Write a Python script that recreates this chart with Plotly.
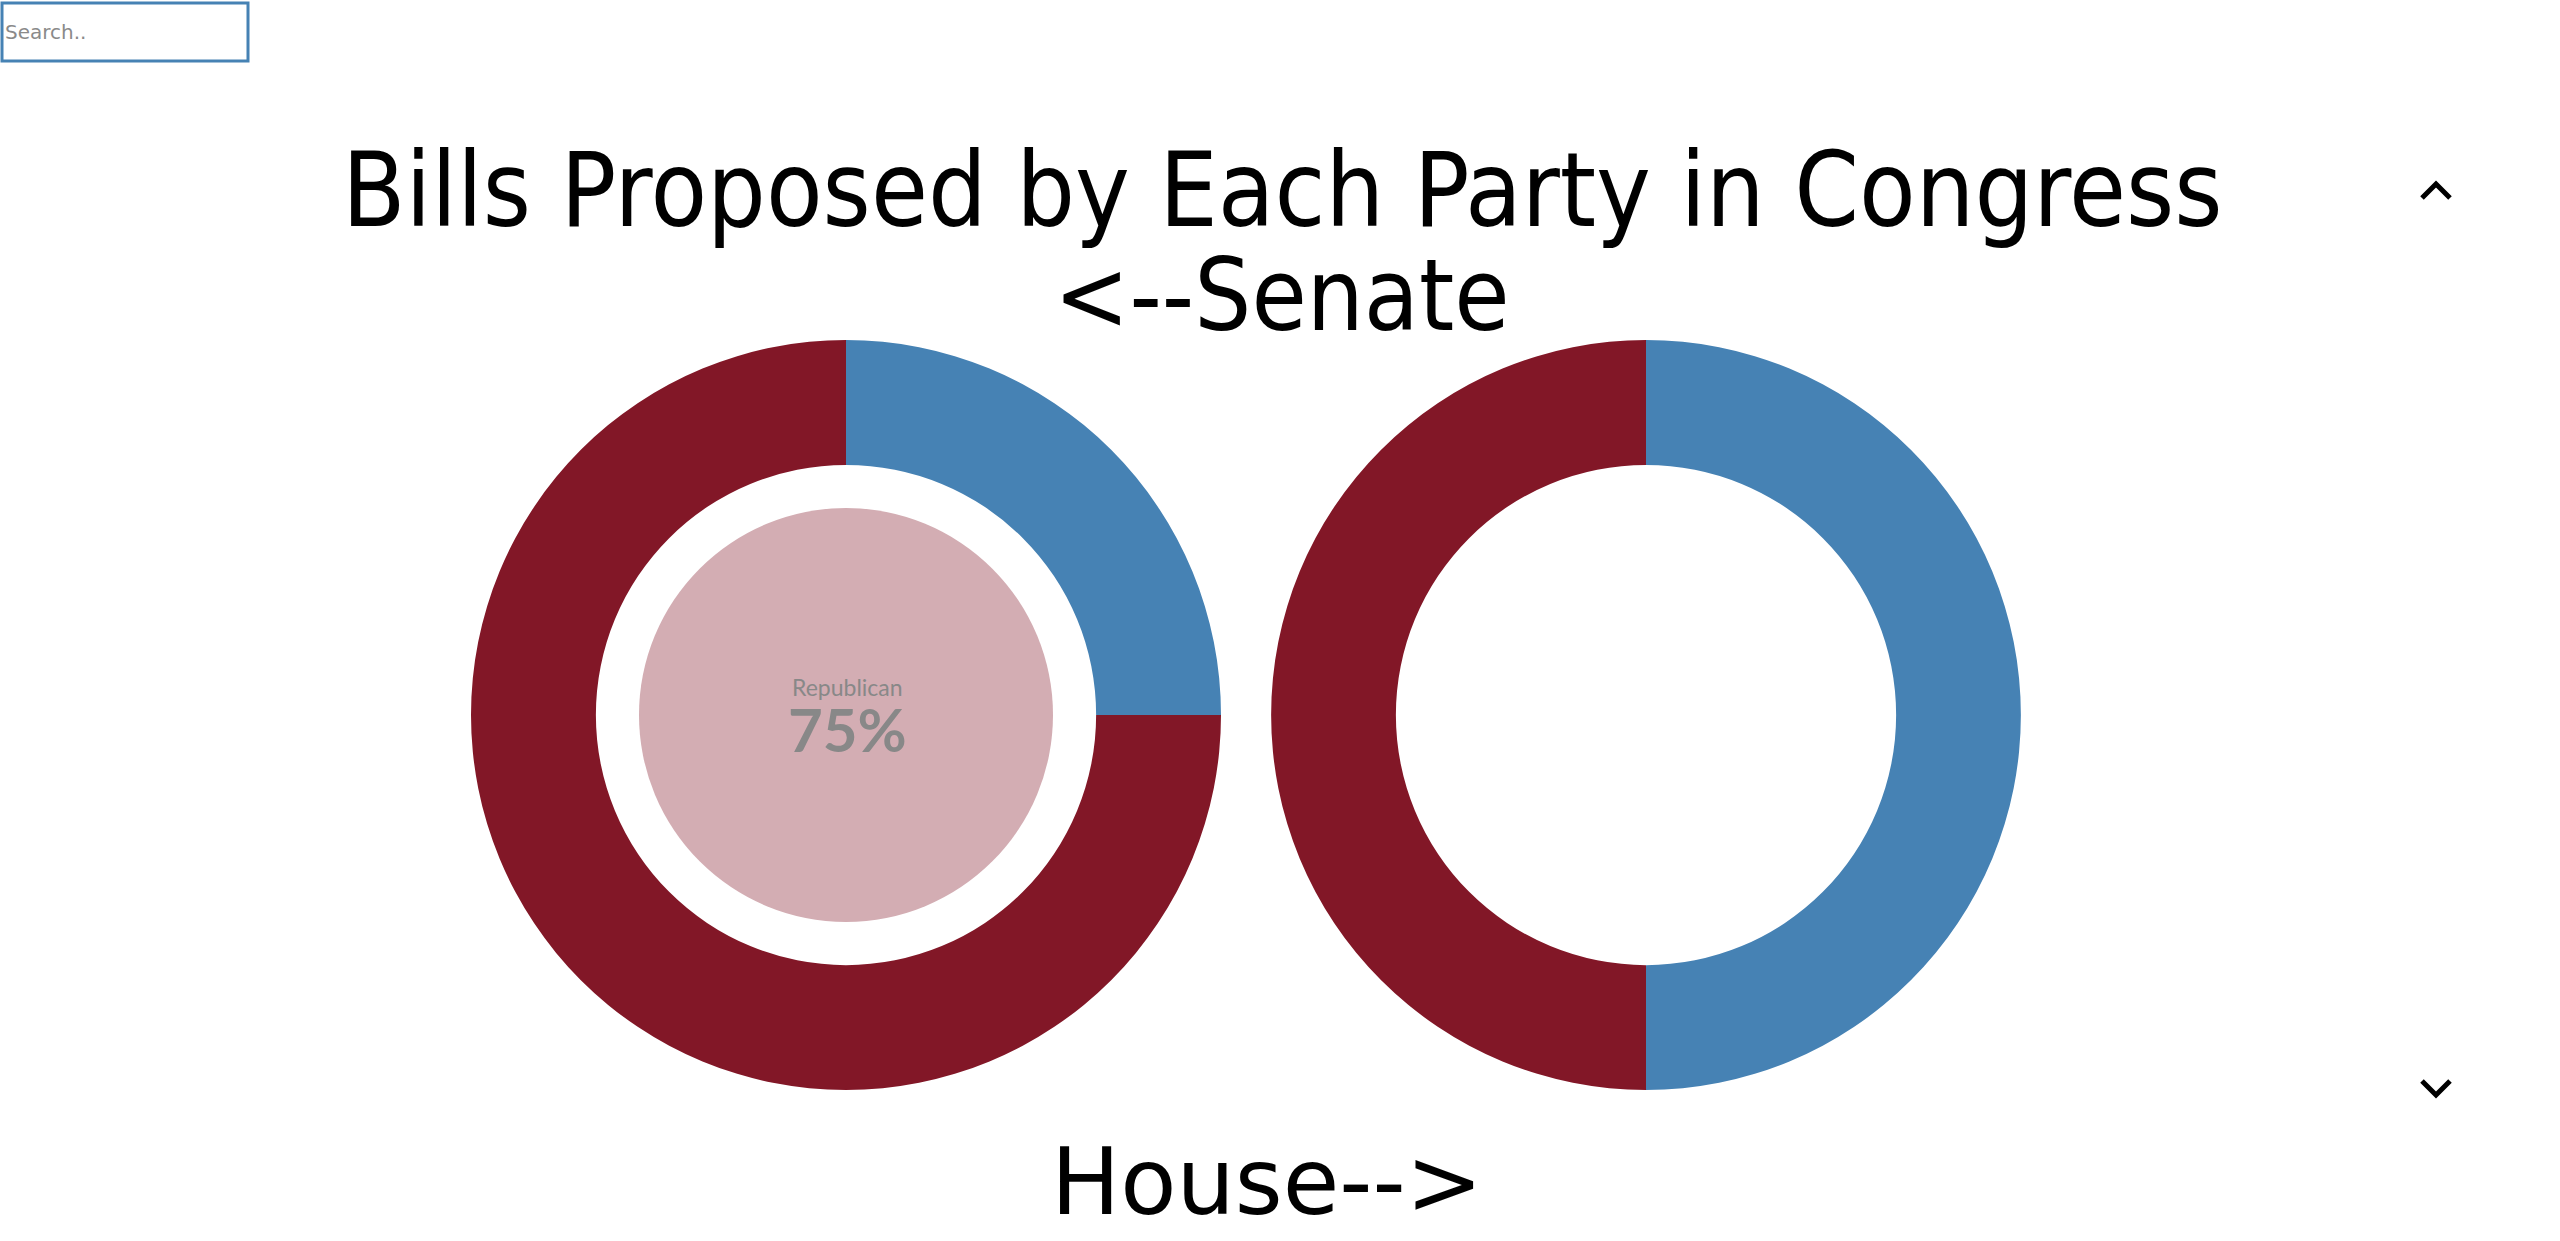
import plotly.graph_objects as go

W, H = 2560, 1241

parties = ["Democrat", "Republican"]
colors = ["#4682B4", "#821727"]
senate_values = [25, 75]
house_values = [50, 50]

hover_label = "Republican"
hover_pct = "75%"

title_line1 = "Bills Proposed by Each Party in Congress"
title_line2 = "<--Senate"
bottom_label = "House-->"
search_placeholder = "Search.."


def px(x):
    return x / W


def py(y):
    return 1 - y / H


def domain(cx, cy, r):
    return dict(x=[px(cx - r), px(cx + r)], y=[py(cy + r), py(cy - r)])


fig = go.Figure()

fig.add_trace(go.Pie(
    labels=parties, values=senate_values, hole=0.667, sort=False,
    direction="clockwise", rotation=0,
    marker=dict(colors=colors, line=dict(width=0)),
    textinfo="none", showlegend=False, domain=domain(846, 715, 375),
))
fig.add_trace(go.Pie(
    labels=parties, values=house_values, hole=0.667, sort=False,
    direction="clockwise", rotation=0,
    marker=dict(colors=colors, line=dict(width=0)),
    textinfo="none", showlegend=False, domain=domain(1646, 715, 375),
))
# hover highlight disc inside the senate donut
fig.add_trace(go.Pie(
    labels=[hover_label], values=[1], sort=False,
    marker=dict(colors=["#D3ADB3"], line=dict(width=0)),
    textinfo="none", showlegend=False, domain=domain(846, 715, 207),
))

title_font = "Liberation Sans Narrow, DejaVu Sans Condensed, sans-serif"
wide_font = "DejaVu Sans, sans-serif"
body_font = "Lato, Open Sans, sans-serif"

annotations = [
    dict(text=title_line1, x=px(1282), y=py(190), font=dict(size=103, family=title_font, color="#000")),
    dict(text=title_line2, x=px(1282), y=py(295), font=dict(size=100, family=title_font, color="#000")),
    dict(text=bottom_label, x=px(1267), y=py(1182), font=dict(size=92, family=wide_font, color="#000")),
    dict(text=hover_label, x=px(847), y=py(687), font=dict(size=23, family=body_font, color="#888888")),
    dict(text=hover_pct, x=px(847), y=py(729), font=dict(size=60, family=body_font, color="#888888", weight=700)),
    dict(text=search_placeholder, x=px(3), y=py(32), xanchor="left",
         font=dict(size=20, family="DejaVu Sans, sans-serif", color="#8a8a8a")),
]
for a in annotations:
    a.setdefault("xanchor", "center")
    a["yanchor"] = "middle"
    a["xref"] = "paper"
    a["yref"] = "paper"
    a["showarrow"] = False

shapes = [
    dict(type="rect", xref="paper", yref="paper",
         x0=px(2), x1=px(248), y0=py(61), y1=py(3),
         line=dict(color="#4682B4", width=3), fillcolor="white"),
    dict(type="path", xref="paper", yref="paper",
         path=f"M {px(2422)} {py(198)} L {px(2436)} {py(184)} L {px(2450)} {py(198)}",
         line=dict(color="#000", width=5)),
    dict(type="path", xref="paper", yref="paper",
         path=f"M {px(2422)} {py(1081)} L {px(2436)} {py(1095)} L {px(2450)} {py(1081)}",
         line=dict(color="#000", width=5)),
]

fig.update_layout(
    width=W, height=H,
    margin=dict(l=0, r=0, t=0, b=0),
    paper_bgcolor="white", plot_bgcolor="white",
    annotations=annotations, shapes=shapes,
)

fig.write_html(
    "out.html",
    config={"displayModeBar": False},
    post_script="document.body.style.margin='0px';document.body.style.overflow='hidden';",
)
